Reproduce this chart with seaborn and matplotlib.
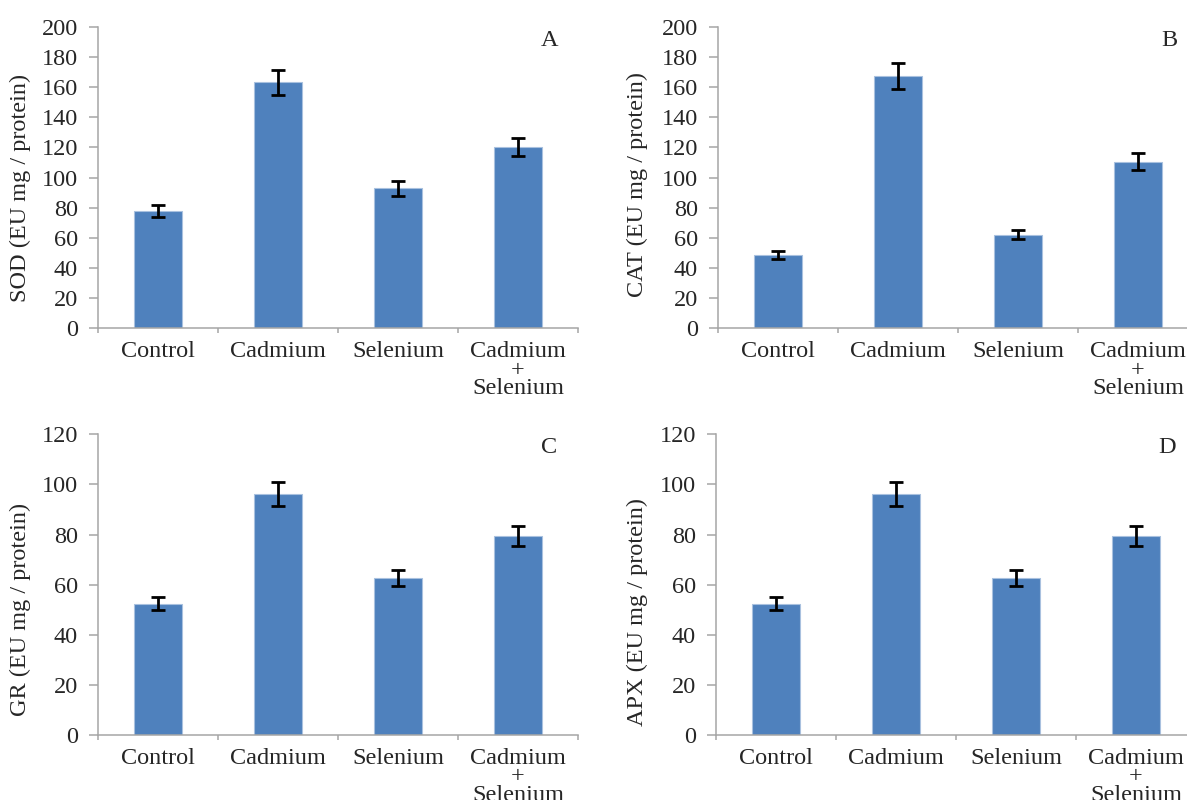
import matplotlib
matplotlib.use("Agg")
import matplotlib.pyplot as plt
import seaborn as sns
import pandas as pd
import numpy as np
from matplotlib.ticker import FixedLocator

# ---- data ----
categories = ["Control", "Cadmium", "Selenium", "Cadmium\n+\nSelenium"]
sod_values = [78, 163, 93, 120]
sod_errors = [4, 8, 5, 6]
cat_values = [48.5, 167.5, 62, 110.5]
cat_errors = [2.6, 8.5, 3.1, 5.7]
gr_values = [52.4, 96.2, 62.8, 79.3]
gr_errors = [2.6, 4.9, 3.2, 4.0]
apx_values = [52.4, 96.2, 62.8, 79.3]
apx_errors = [2.6, 4.9, 3.2, 4.0]
ylabels = ["SOD (EU mg / protein)", "CAT (EU mg / protein)",
           "GR (EU mg / protein)", "APX (EU mg / protein)"]
panel_letters = ["A", "B", "C", "D"]
ymax_list = [200, 200, 120, 120]

sns.set_theme(style="white")
plt.rcParams['font.family'] = ['Liberation Serif', 'DejaVu Serif']

fig = plt.figure(figsize=(11.87, 8.0), dpi=100)

W, H = 1187.0, 800.0
# layout: (left px, top px, bottom px) per panel
layout = [(98, 26.7, 328.3), (718, 26.7, 328.3), (98, 434.3, 735), (716, 434.3, 735)]
label_y = [0.464, 0.478, 0.416, 0.41]
label_x = [-0.14, -0.145, -0.14, -0.142]
axw = 480

bar_color = "#4F81BD"
spine_color = "#a6a6a6"
fs = 17.5

series = [(sod_values, sod_errors), (cat_values, cat_errors),
          (gr_values, gr_errors), (apx_values, apx_errors)]

for i, ((vals, errs), (lx, top, bot)) in enumerate(zip(series, layout)):
    ax = fig.add_axes([lx / W, (H - bot) / H, axw / W, (bot - top) / H])
    df = pd.DataFrame({"group": categories, "value": vals})
    sns.barplot(data=df, x="group", y="value", color=bar_color, width=0.4,
                saturation=1, errorbar=None, ax=ax,
                edgecolor="#a9c1df", linewidth=0.8)
    ax.errorbar(x=np.arange(len(categories)), y=vals, yerr=errs, fmt="none",
                ecolor="black", elinewidth=2.0, capsize=4.8, capthick=2.0, zorder=5)
    ax.set_xlim(-0.5, len(categories) - 0.5)
    ax.set_ylim(0, ymax_list[i])
    ax.set_yticks(np.arange(0, ymax_list[i] + 1, 20))
    ax.set_xlabel("")
    ax.set_ylabel(ylabels[i], fontsize=fs)
    ax.yaxis.set_label_coords(label_x[i], label_y[i])
    for s in ["top", "right"]:
        ax.spines[s].set_visible(False)
    for s in ["left", "bottom"]:
        ax.spines[s].set_color(spine_color)
        ax.spines[s].set_linewidth(1.1)
    ax.tick_params(axis="y", which="major", direction="out", length=6.5, width=1.1,
                   color=spine_color, labelsize=fs, pad=8, left=True)
    ax.tick_params(axis="x", which="major", length=0, labelsize=fs, pad=9)
    ax.xaxis.set_minor_locator(FixedLocator(np.arange(-0.5, len(categories), 1.0)))
    ax.tick_params(axis="x", which="minor", direction="out", length=3.8, width=1.1,
                   color=spine_color, bottom=True)
    for t in ax.get_xticklabels():
        t.set_linespacing(0.86)
    ax.text(0.94, 0.955, panel_letters[i], transform=ax.transAxes, fontsize=fs,
            ha="center", va="center")

fig.savefig("out.png", dpi=100)
